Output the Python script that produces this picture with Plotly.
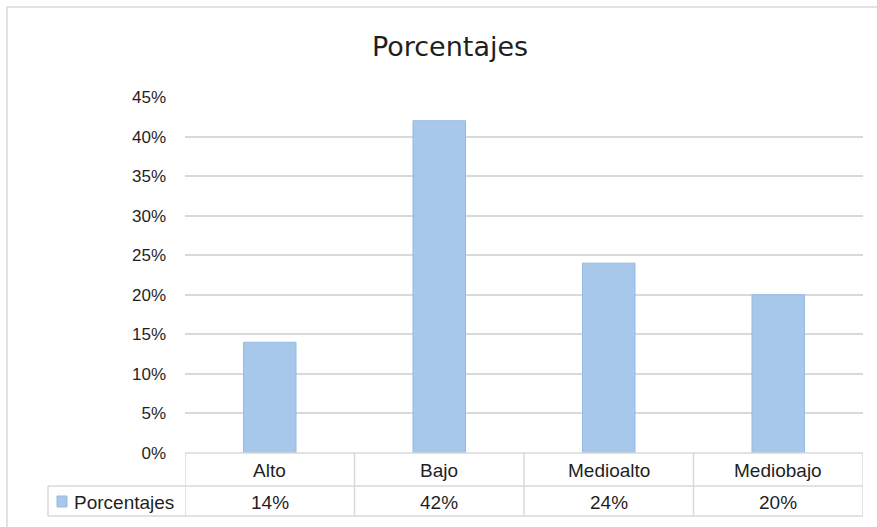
import plotly.graph_objects as go

# Chart data
categories = ["Alto", "Bajo", "Medioalto", "Mediobajo"]
values = [14, 42, 24, 20]
series_name = "Porcentajes"
tick_values = [0, 5, 10, 15, 20, 25, 30, 35, 40, 45]
tick_labels = [f"{v}%" for v in tick_values]

W, H = 877, 527
L, R, T, B = 185, 14, 97, 74
plot_w = W - L - R
plot_h = H - T - B

def px_x(px):
    return (px - L) / plot_w

def px_y(py):
    return (H - B - py) / plot_h

BAR_FILL = "#A7C8EB"
BAR_LINE = "#96BBE2"
GRID = "#D9D9D9"
TEXT = "#1f1f1f"
FONT = "Liberation Sans"

fig = go.Figure()
fig.add_trace(go.Bar(
    x=categories, y=values, name=series_name,
    marker=dict(color=BAR_FILL, line=dict(color=BAR_LINE, width=1)),
    width=0.31, showlegend=False, hoverinfo="x+y",
))

shapes = []
line_style = dict(color=GRID, width=1.5)
# outer chart frame
shapes.append(dict(type="rect", xref="paper", yref="paper",
                   x0=px_x(7), x1=px_x(882), y0=px_y(532), y1=px_y(7),
                   line=dict(color=GRID, width=1.5), layer="below"))
# data table: horizontal rules
row1_bottom = px_y(486)
row2_bottom = px_y(516)
shapes.append(dict(type="line", xref="paper", yref="paper", x0=0, x1=1,
                   y0=0, y1=0, line=line_style))
shapes.append(dict(type="line", xref="paper", yref="paper", x0=px_x(48), x1=1,
                   y0=row1_bottom, y1=row1_bottom, line=line_style))
shapes.append(dict(type="line", xref="paper", yref="paper", x0=px_x(48), x1=1,
                   y0=row2_bottom, y1=row2_bottom, line=line_style))
# data table: vertical rules at category boundaries
for i in range(len(categories) + 1):
    shapes.append(dict(type="line", xref="x", yref="paper",
                       x0=i - 0.5, x1=i - 0.5, y0=row2_bottom, y1=0,
                       line=line_style))
shapes.append(dict(type="line", xref="paper", yref="paper",
                   x0=px_x(48), x1=px_x(48), y0=row2_bottom, y1=row1_bottom,
                   line=line_style))
# legend key in the table
shapes.append(dict(type="rect", xref="paper", yref="paper",
                   x0=px_x(57), x1=px_x(67), y0=px_y(507), y1=px_y(496),
                   fillcolor=BAR_FILL, line=dict(color=BAR_LINE, width=1)))

annotations = []
row1_mid = px_y(470)
row2_mid = px_y(502)
cell_font = dict(family=FONT, size=19, color=TEXT)
for cat, val in zip(categories, values):
    annotations.append(dict(x=cat, xref="x", y=row1_mid, yref="paper",
                            text=cat, showarrow=False,
                            xanchor="center", yanchor="middle",
                            font=cell_font))
    annotations.append(dict(x=cat, xref="x", y=row2_mid, yref="paper",
                            text=f"{val}%", showarrow=False,
                            xanchor="center", yanchor="middle",
                            font=cell_font))
annotations.append(dict(x=px_x(72), xref="paper", y=row2_mid, yref="paper",
                        text=series_name, showarrow=False,
                        xanchor="left", yanchor="middle",
                        font=cell_font))

fig.update_layout(
    width=W, height=H,
    margin=dict(l=L, r=R, t=T, b=B),
    paper_bgcolor="white", plot_bgcolor="white",
    title=dict(text="Porcentajes", x=450 / W, xanchor="center",
               y=1 - 47 / H, yanchor="middle",
               font=dict(family="DejaVu Sans", size=27, color=TEXT)),
    xaxis=dict(showticklabels=False, showgrid=False, zeroline=False,
               showline=False, ticks="", range=[-0.5, 3.5]),
    yaxis=dict(range=[0, 45], tickvals=tick_values, ticktext=tick_labels,
               showgrid=True, gridcolor=GRID, gridwidth=1.5, zeroline=False,
               showline=False, ticks="", ticklabelstandoff=18,
               tickfont=dict(family=FONT, size=17, color=TEXT)),
    shapes=shapes, annotations=annotations,
    bargap=0.69,
)

fig.write_html("out.html")
